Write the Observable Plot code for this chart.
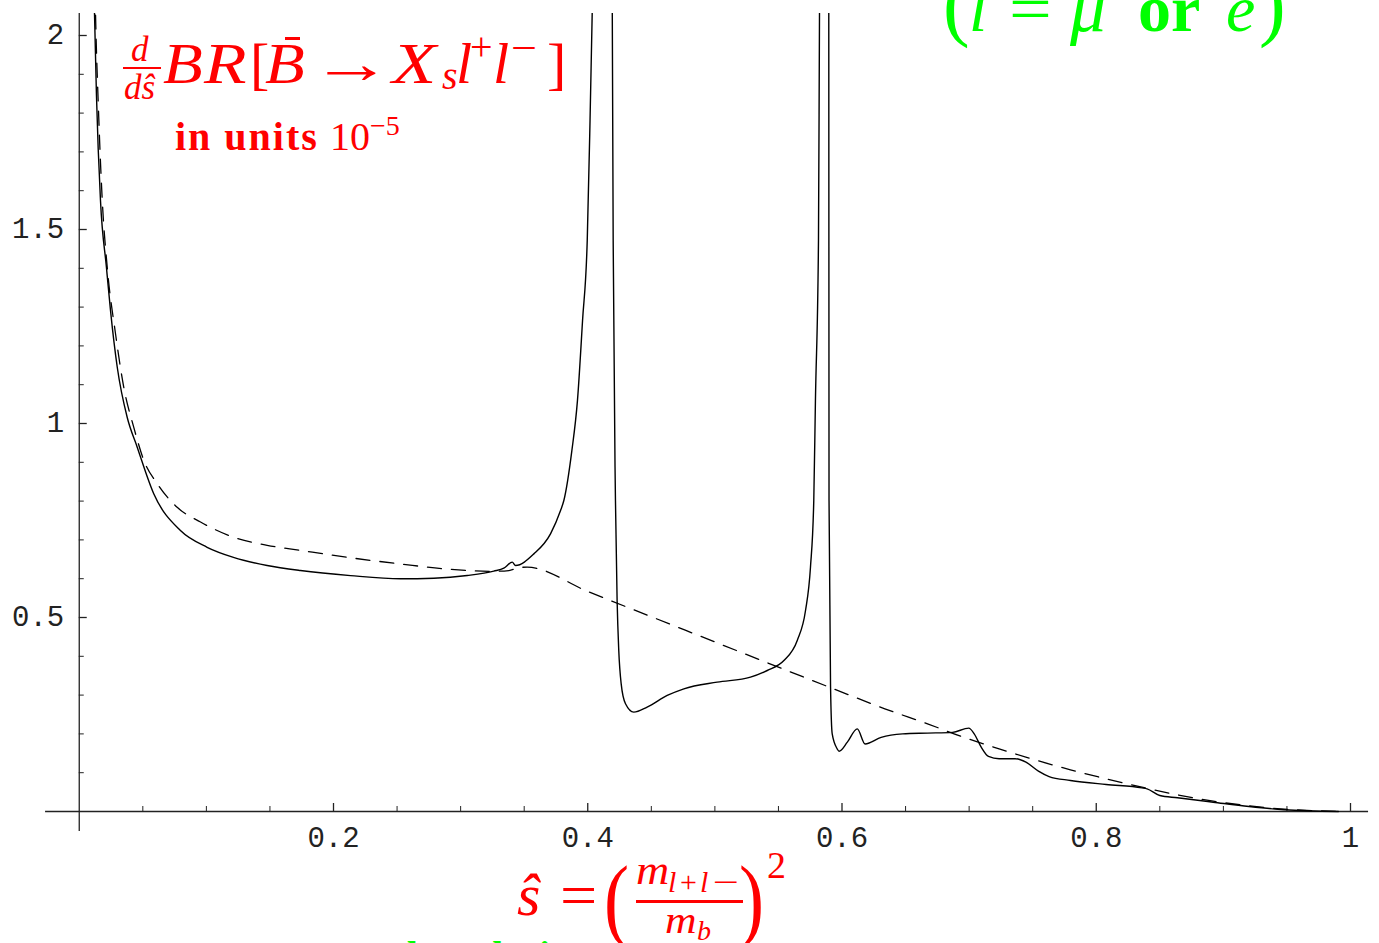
<!DOCTYPE html>
<html><head><meta charset="utf-8">
<script src="https://cdn.jsdelivr.net/npm/d3@7"></script>
<script src="https://cdn.jsdelivr.net/npm/@observablehq/plot@0.6"></script>
<style>
html,body{margin:0;padding:0;background:#fff;overflow:hidden}
#wrap{position:relative;width:1379px;height:943px;overflow:hidden;background:#fff}
#wrap svg{position:absolute;left:0;top:0}
.t{position:absolute;white-space:nowrap;line-height:1;font-family:"Liberation Serif","Times New Roman",serif;transform-origin:0 0}
.red{color:#ff0000}.green{color:#00ff00}
.it{font-style:italic}.b{font-weight:bold}
.bar{position:absolute}
.g{display:inline-block;line-height:0;transform-origin:0 50%}
</style></head><body><div id="wrap"></div>
<script>
// ---- data (ŝ, dBR/dŝ in units 1e-5) ----
const solidCurve = [[0.0105,2.30],[0.0120,2.057],[0.0135,1.85],[0.0167,1.575],[0.0214,1.402],[0.0246,1.291],[0.0299,1.145],[0.0377,1.016],[0.0456,0.939],[0.0586,0.819],[0.0796,0.724],[0.1006,0.681],[0.1213,0.655],[0.1478,0.634],[0.174,0.621],[0.2134,0.608],[0.2527,0.600],[0.2789,0.6013],[0.3052,0.6082],[0.3261,0.6194],[0.334,0.627],[0.3406,0.6426],[0.3432,0.634],[0.3576,0.664],[0.3707,0.7157],[0.3786,0.7758],[0.3812,0.8015],[0.3875,0.930],[0.3919,1.059],[0.3959,1.265],[0.3996,1.472],[0.4018,1.781],[0.4035,2.057],[0.408,2.6],[0.412,3.2],[0.4188,2.6],[0.4193,2.057],[0.4200,1.472],[0.4218,0.8015],[0.4231,0.5438],[0.4244,0.415],[0.4263,0.329],[0.4297,0.2776],[0.4362,0.256],[0.4467,0.2689],[0.4625,0.299],[0.4756,0.3162],[0.5018,0.3333],[0.528,0.3462],[0.5412,0.3634],[0.5543,0.389],[0.5648,0.4407],[0.5713,0.518],[0.5752,0.6296],[0.5778,0.8015],[0.5791,1.059],[0.5815,1.472],[0.5823,2.057],[0.5840,2.6],[0.5865,3.2],[0.5893,2.6],[0.5896,2.057],[0.5898,0.8015],[0.5910,0.320],[0.5923,0.2],[0.5962,0.1616],[0.5977,0.1554],[0.6042,0.1787],[0.612,0.213],[0.6182,0.174],[0.6308,0.191],[0.6477,0.2],[0.6673,0.202],[0.687,0.204],[0.6997,0.2148],[0.704,0.2],[0.7095,0.166],[0.7152,0.142],[0.7236,0.136],[0.7362,0.136],[0.7447,0.127],[0.7545,0.104],[0.7629,0.090],[0.7797,0.080],[0.8078,0.0696],[0.8359,0.061],[0.840,0.0585],[0.85,0.0412],[0.8639,0.0353],[0.892,0.024],[0.9202,0.0129],[0.948,0.0045],[0.9905,0]];
const dashedCurve = [[0.0115,2.30],[0.0128,2.057],[0.0150,1.82],[0.0181,1.575],[0.0220,1.403],[0.0285,1.232],[0.0350,1.094],[0.0429,0.990],[0.0508,0.905],[0.0613,0.845],[0.0770,0.784],[0.0954,0.746],[0.1213,0.707],[0.1478,0.686],[0.174,0.673],[0.2134,0.654],[0.2527,0.638],[0.292,0.624],[0.3261,0.619],[0.338,0.621],[0.346,0.629],[0.3523,0.6297],[0.40,0.567],[0.45,0.502],[0.50,0.437],[0.55,0.372],[0.5935,0.316],[0.6337,0.2647],[0.6673,0.2259],[0.6955,0.1915],[0.7236,0.1616],[0.7517,0.1332],[0.7797,0.1074],[0.8078,0.0842],[0.8359,0.0627],[0.8639,0.043],[0.892,0.0266],[0.9202,0.0146],[0.948,0.006],[0.9905,0]];
const xTicks = [0.2, 0.4, 0.6, 0.8, 1];
const xTickLabels = ["0.2", "0.4", "0.6", "0.8", "1"];
const xMinorTicks = [0.05,0.1,0.15,0.25,0.3,0.35,0.45,0.5,0.55,0.65,0.7,0.75,0.85,0.9,0.95];
const yTicks = [0.5, 1, 1.5, 2];
const yTickLabels = ["0.5", "1", "1.5", "2"];
const yMinorTicks = [0.1,0.2,0.3,0.4,0.6,0.7,0.8,0.9,1.1,1.2,1.3,1.4,1.6,1.7,1.8,1.9];
const xAxisExtent = [-0.0265, 1.0142];
const yAxisExtent = [-0.0515, 2.057];

// ---- layout ----
const W = 1379, H = 943, X0 = 78.75, KX = 1271.25, Y0 = 811, KY = 388, TOP = 13;
const solid = solidCurve.map(([s, v]) => ({s, v}));
const dashed = dashedCurve.map(([s, v]) => ({s, v}));
const mono = "'Liberation Mono','Courier New',monospace";

const chart = Plot.plot({
  width: W, height: H,
  marginTop: TOP, marginBottom: 0, marginLeft: 0, marginRight: 0,
  x: {domain: [-X0 / KX, (W - X0) / KX], axis: null},
  y: {domain: [(Y0 - H) / KY, (Y0 - TOP) / KY], axis: null},
  style: {background: "transparent", overflow: "visible"},
  marks: [
    Plot.ruleY([0], {x1: xAxisExtent[0], x2: xAxisExtent[1], stroke: "#222", strokeWidth: 1.3}),
    Plot.ruleX([0], {y1: yAxisExtent[0], y2: yAxisExtent[1], stroke: "#222", strokeWidth: 1.3}),
    Plot.ruleX(xTicks, {x: d => d, y1: 0, y2: 0, insetTop: -8, stroke: "#222", strokeWidth: 1.3}),
    Plot.ruleX(xMinorTicks, {x: d => d, y1: 0, y2: 0, insetTop: -5, stroke: "#222", strokeWidth: 1}),
    Plot.ruleY(yTicks, {y: d => d, x1: 0, x2: 0, insetRight: -8, stroke: "#222", strokeWidth: 1.3}),
    Plot.ruleY(yMinorTicks, {y: d => d, x1: 0, x2: 0, insetRight: -5, stroke: "#222", strokeWidth: 1}),
    Plot.text(xTicks, {x: d => d, y: 0, text: (d, i) => xTickLabels[i], dy: 26, textAnchor: "middle", lineAnchor: "middle", fontFamily: mono, fontSize: 29, fill: "#222"}),
    Plot.text(yTicks, {x: 0, y: d => d, text: (d, i) => yTickLabels[i], dx: -15, dy: -1, textAnchor: "end", lineAnchor: "middle", fontFamily: mono, fontSize: 29, fill: "#222"}),
    Plot.line(dashed, {x: "s", y: "v", stroke: "black", strokeWidth: 1.3, strokeDasharray: "14,10", curve: "monotone-x", clip: true}),
    Plot.line(solid, {x: "s", y: "v", stroke: "black", strokeWidth: 1.4, curve: "monotone-x", clip: true})
  ]
});
const wrap = document.getElementById("wrap");
wrap.appendChild(chart);

// ---- text annotations (real text, positioned by baseline) ----
function put(html, cls, left, baseline, size, extra) {
  const el = document.createElement("div");
  el.className = "t " + cls;
  el.style.fontSize = size + "px";
  el.style.left = left + "px";
  el.style.top = (baseline - 0.8375 * size) + "px";
  if (extra) el.style.cssText += extra;
  el.innerHTML = html;
  wrap.appendChild(el);
  return el;
}
// one glyph group in a fixed-width inline box
function g(txt, w, st) {
  return `<span class="g" style="width:${w}px;${st || ""}">${txt}</span>`;
}
function bar(left, top, width, height, color) {
  const el = document.createElement("div");
  el.className = "bar";
  Object.assign(el.style, {left: left + "px", top: top + "px", width: width + "px", height: height + "px", background: color});
  wrap.appendChild(el);
}
const R = "#ff0000";
const up = "font-style:normal;";
// title: d/dŝ BR[B̄ → X_s l+ l−]
put("d", "red it", 131, 61.5, 35);
bar(123, 66.5, 38, 2.2, R);
put("dŝ", "red it", 124, 99, 35);
put(
  g("B", 41, "transform:scaleX(1.12)") +
  g("R", 46, "transform:scaleX(1.2)") +
  g("[", 15, up) +
  g("B", 43, "transform:scaleX(1.12)") +
  g("→", 82, up + "transform:scaleX(1.4);padding-left:2px") +
  g("X", 50, "transform:scaleX(1.25)") +
  g("s", 14, "font-size:40px;vertical-align:-6.5px") +
  g("l", 14) +
  g("+", 23, up + "font-size:40px;vertical-align:23px") +
  g("l", 18) +
  g("−", 36, up + "font-size:40px;vertical-align:22px;transform:scaleX(1.15)") +
  g("]", 14, up),
  "red it", 163, 83.5, 58);
bar(285, 37, 15, 3, R);
put("in units", "red b", 175, 150, 40, "letter-spacing:2px");
put('10' + g("−5", 34, "font-size:28px;vertical-align:15px"), "red", 330, 150, 40);

// green (l = μ or e), partly outside the top edge
put("(", "green", 943, 31, 80);
put("l", "green it", 969, 31, 66);
put("=", "green", 1009, 31, 66, "transform:scaleX(1.15)");
put("μ", "green it", 1070, 31, 72);
put("or", "green b", 1138, 31, 66);
put("e", "green it", 1226, 31, 66);
put(")", "green", 1259, 31, 80);

// x-axis label: ŝ = (m_{l+l−}/m_b)^2
put("ŝ", "red it", 517, 915, 60);
put("=", "red", 560, 915, 60, "transform:scaleX(1.1)");
put("(", "red", 604, 930, 94, "transform:scaleX(0.8)");
put(
  g("m", 32, "transform:scaleX(1.15)") +
  g("l", 12, "font-size:30px;vertical-align:-8px") +
  g("+", 20, up + "font-size:30px;vertical-align:-8px") +
  g("l", 13, "font-size:30px;vertical-align:-8px") +
  g("−", 28, up + "font-size:30px;vertical-align:-8px;transform:scaleX(1.55)"),
  "red it", 636, 884, 40);
bar(636, 900, 107, 3, R);
put(g("m", 32, "transform:scaleX(1.15)") + g("b", 18, "font-size:28px;vertical-align:-7px"), "red it", 665, 933, 38);
put(")", "red", 739, 930, 94, "transform:scaleX(0.8)");
put("2", "red", 767, 878, 38);

// green note below, cut by the bottom edge
put("at the solution", "green b", 350, 969, 40);
</script></body></html>
